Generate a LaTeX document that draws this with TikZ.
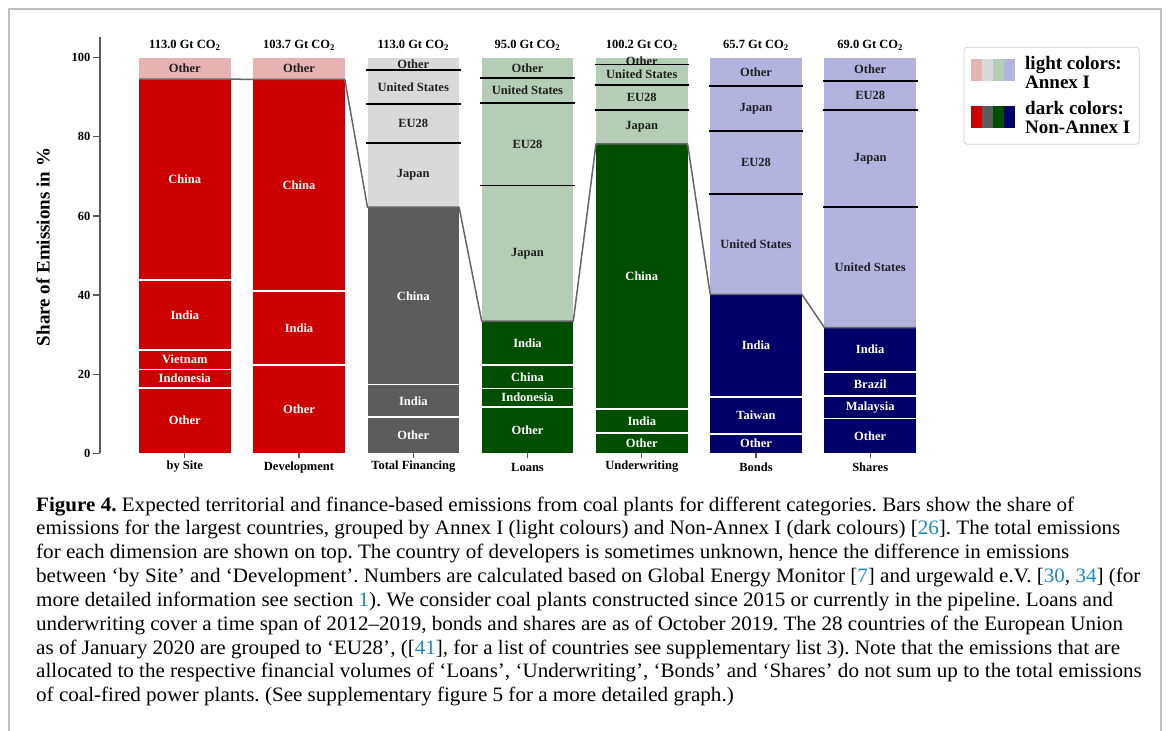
\documentclass[tikz,border=0pt]{standalone}
\usepackage{fontspec}
\setmainfont{Liberation Serif}
\newfontfamily\capfont[FakeStretch=1.028]{Liberation Serif}
\definecolor{redD}{RGB}{204,0,0}
\definecolor{redL}{RGB}{230,178,178}
\definecolor{grayD}{RGB}{92,92,92}
\definecolor{grayL}{RGB}{217,217,217}
\definecolor{greenD}{RGB}{0,78,0}
\definecolor{greenL}{RGB}{181,205,181}
\definecolor{blueD}{RGB}{0,0,104}
\definecolor{blueL}{RGB}{179,179,224}
\definecolor{citeblue}{RGB}{30,136,200}
\definecolor{framegray}{RGB}{190,190,190}
\tikzset{
  lab/.style={font=\fontsize{12.5}{13}\selectfont\bfseries, inner sep=0pt},
  labD/.style={lab, text=white},
  labL/.style={lab, text=black!88},
  sepL/.style={line width=1.8pt, black},
  sepD/.style={line width=1.8pt, white},
  conn/.style={line width=1.5pt, draw=black!60},
  axisline/.style={line width=1.3pt, draw=black!65},
  legtext/.style={font=\fontsize{19}{18.7}\selectfont\bfseries, inner sep=0pt, align=left, anchor=west},
  captext/.style={font=\capfont\fontsize{20.5}{23.8}\selectfont\frenchspacing, inner sep=0pt, anchor=base west},
  framel/.style={line width=1.5pt, draw=framegray},
}
% segment: name, x-left, lo, hi, fill colour, label style, text
\newcommand{\seg}[7]{%
  \fill[#5] (#2,#3) rectangle ({#2+91.6},#4);
  \node[#6] (#1) at ({#2+45.8},{(#3+#4)/2}) {#7};}
\newcommand{\sepl}[2]{\draw[sepL] ({#1-1.5},#2) -- ({#1+93.1},#2);}
\newcommand{\sepd}[2]{\draw[sepD] (#1,#2) -- ({#1+91.6},#2);}
\newcommand{\cit}[1]{\textcolor{citeblue}{#1}}
\begin{document}
\begin{tikzpicture}[x=1pt, y=-1pt]
\useasboundingbox (0,0) rectangle (1168,731);
\fill[white] (0,0) rectangle (1168,731);
\draw[framel] (9,731) -- (9,9) -- (1161,9) -- (1161,731);

% axis
\draw[axisline] (100,37) -- (100,453.3);
\foreach \v in {0,20,...,100} {
  \draw[axisline] (93,{453.3-\v*3.956}) -- (100,{453.3-\v*3.956});
  \node[lab, anchor=east] (tick\v) at (90.5,{453.3-\v*3.956}) {\v};
}
\node[font=\fontsize{19}{20}\selectfont\bfseries, rotate=90, inner sep=0pt] (ytitle) at (43,247) {Share of Emissions in \%};

\begin{scope}[shift={(0pt,-453.3pt)}, y=3.956pt]
% ---- bar 1: by Site
\seg{b1o}{139}{0}{16.6}{redD}{labD}{Other}
\seg{b1id}{139}{16.6}{21.2}{redD}{labD}{Indonesia}
\seg{b1v}{139}{21.2}{26.1}{redD}{labD}{Vietnam}
\seg{b1in}{139}{26.1}{43.8}{redD}{labD}{India}
\seg{b1c}{139}{43.8}{94.6}{redD}{labD}{China}
\seg{b1ot}{139}{94.6}{100}{redL}{labL}{Other}
\sepd{139}{16.6}\sepd{139}{21.2}\sepd{139}{26.1}\sepd{139}{43.8}
% ---- bar 2: Development
\seg{b2o}{253.2}{0}{22.3}{redD}{labD}{Other}
\seg{b2in}{253.2}{22.3}{41.1}{redD}{labD}{India}
\seg{b2c}{253.2}{41.1}{94.5}{redD}{labD}{China}
\seg{b2ot}{253.2}{94.5}{100}{redL}{labL}{Other}
\sepd{253.2}{22.3}\sepd{253.2}{41.1}
% ---- bar 3: Total Financing
\seg{b3o}{367.5}{0}{9.1}{grayD}{labD}{Other}
\seg{b3in}{367.5}{9.1}{17.4}{grayD}{labD}{India}
\seg{b3c}{367.5}{17.4}{62.2}{grayD}{labD}{China}
\seg{b3j}{367.5}{62.2}{78.4}{grayL}{labL}{Japan}
\seg{b3eu}{367.5}{78.4}{88.3}{grayL}{labL}{EU28}
\seg{b3us}{367.5}{88.3}{96.9}{grayL}{labL}{United States}
\seg{b3ot}{367.5}{96.9}{100}{grayL}{labL}{Other}
\sepd{367.5}{9.1}\sepd{367.5}{17.4}
\sepl{367.5}{78.4}\sepl{367.5}{88.3}\sepl{367.5}{96.9}
% ---- bar 4: Loans
\seg{b4o}{481.7}{0}{11.8}{greenD}{labD}{Other}
\seg{b4id}{481.7}{11.8}{16.4}{greenD}{labD}{Indonesia}
\seg{b4c}{481.7}{16.4}{22.3}{greenD}{labD}{China}
\seg{b4in}{481.7}{22.3}{33.4}{greenD}{labD}{India}
\seg{b4j}{481.7}{33.4}{67.7}{greenL}{labL}{Japan}
\seg{b4eu}{481.7}{67.7}{88.6}{greenL}{labL}{EU28}
\seg{b4us}{481.7}{88.6}{94.9}{greenL}{labL}{United States}
\seg{b4ot}{481.7}{94.9}{100}{greenL}{labL}{Other}
\sepd{481.7}{11.8}\sepd{481.7}{16.4}\sepd{481.7}{22.3}
\sepl{481.7}{67.7}\sepl{481.7}{88.6}\sepl{481.7}{94.9}
% ---- bar 5: Underwriting
\seg{b5o}{596}{0}{5.2}{greenD}{labD}{Other}
\seg{b5in}{596}{5.2}{11.1}{greenD}{labD}{India}
\seg{b5c}{596}{11.1}{78.2}{greenD}{labD}{China}
\seg{b5j}{596}{78.2}{86.8}{greenL}{labL}{Japan}
\seg{b5eu}{596}{86.8}{93.1}{greenL}{labL}{EU28}
\seg{b5us}{596}{93.1}{98.3}{greenL}{labL}{United States}
\seg{b5ot}{596}{98.3}{100}{greenL}{labL}{Other}
\sepd{596}{5.2}\sepd{596}{11.1}
\sepl{596}{86.8}\sepl{596}{93.1}\sepl{596}{98.3}
% ---- bar 6: Bonds
\seg{b6o}{710.2}{0}{4.9}{blueD}{labD}{Other}
\seg{b6t}{710.2}{4.9}{14.3}{blueD}{labD}{Taiwan}
\seg{b6in}{710.2}{14.3}{40.2}{blueD}{labD}{India}
\seg{b6us}{710.2}{40.2}{65.5}{blueL}{labL}{United States}
\seg{b6eu}{710.2}{65.5}{81.5}{blueL}{labL}{EU28}
\seg{b6j}{710.2}{81.5}{92.8}{blueL}{labL}{Japan}
\seg{b6ot}{710.2}{92.8}{100}{blueL}{labL}{Other}
\sepd{710.2}{4.9}\sepd{710.2}{14.3}
\sepl{710.2}{65.5}\sepl{710.2}{81.5}\sepl{710.2}{92.8}
% ---- bar 7: Shares
\seg{b7o}{824.4}{0}{8.8}{blueD}{labD}{Other}
\seg{b7m}{824.4}{8.8}{14.5}{blueD}{labD}{Malaysia}
\seg{b7b}{824.4}{14.5}{20.6}{blueD}{labD}{Brazil}
\seg{b7in}{824.4}{20.6}{31.8}{blueD}{labD}{India}
\seg{b7us}{824.4}{31.8}{62.2}{blueL}{labL}{United States}
\seg{b7j}{824.4}{62.2}{86.8}{blueL}{labL}{Japan}
\seg{b7eu}{824.4}{86.8}{94.2}{blueL}{labL}{EU28}
\seg{b7ot}{824.4}{94.2}{100}{blueL}{labL}{Other}
\sepd{824.4}{8.8}\sepd{824.4}{14.5}\sepd{824.4}{20.6}
\sepl{824.4}{62.2}\sepl{824.4}{86.8}\sepl{824.4}{94.2}
% Annex boundary connector
\coordinate (k1l) at (139,94.6);   \coordinate (k1r) at (230.6,94.6);
\coordinate (k2l) at (253.2,94.5); \coordinate (k2r) at (344.8,94.5);
\coordinate (k3l) at (367.5,62.2); \coordinate (k3r) at (459.1,62.2);
\coordinate (k4l) at (481.7,33.4); \coordinate (k4r) at (573.3,33.4);
\coordinate (k5l) at (596,78.2);   \coordinate (k5r) at (687.6,78.2);
\coordinate (k6l) at (710.2,40.2); \coordinate (k6r) at (801.8,40.2);
\coordinate (k7l) at (824.4,31.8); \coordinate (k7r) at (916,31.8);
\draw[conn, line join=round] (k1l) -- (k1r) -- (k2l) -- (k2r) -- (k3l) -- (k3r) -- (k4l) -- (k4r)
   -- (k5l) -- (k5r) -- (k6l) -- (k6r) -- (k7l) -- (k7r);
\end{scope}

% top totals and category labels
\foreach \cx/\tot/\cat [count=\i] in {184.8/113.0/by Site, 299/103.7/Development, 413.3/113.0/Total Financing, 527.5/95.0/Loans, 641.8/100.2/Underwriting, 756/65.7/Bonds, 870.2/69.0/Shares} {
  \node[lab] (top\i) at (\cx,45) {\tot\ Gt CO\textsubscript{2}};
  \draw[axisline] (\cx,453.3) -- (\cx,457.8);
  \node[lab] (cat\i) at (\cx,467) {\cat};
}

% legend
\draw[draw=black!18, line width=0.8pt, rounded corners=3pt] (964,47.3) rectangle (1139.3,144.3);
\fill[redL]   (971,59.3) rectangle (982,80.7);
\fill[grayL]  (982,59.3) rectangle (993,80.7);
\fill[greenL] (993,59.3) rectangle (1004,80.7);
\fill[blueL]  (1004,59.3) rectangle (1015,80.7);
\fill[redD]   (971,106) rectangle (982,127.7);
\fill[grayD]  (982,106) rectangle (993,127.7);
\fill[greenD] (993,106) rectangle (1004,127.7);
\fill[blueD]  (1004,106) rectangle (1015,127.7);
\node[legtext] (leg1) at (1025,72.5) {light colors:\\Annex I};
\node[legtext] (leg2) at (1025,117.5) {dark colors:\\Non-Annex I};

% caption
\foreach \t [count=\i] in {
  {\textbf{Figure 4.} Expected territorial and finance-based emissions from coal plants for different categories. Bars show the share of},
  {emissions for the largest countries, grouped by Annex I (light colours) and Non-Annex I (dark colours) [\cit{26}]. The total emissions},
  {for each dimension are shown on top. The country of developers is sometimes unknown, hence the difference in emissions},
  {between ‘by Site’ and ‘Development’. Numbers are calculated based on Global Energy Monitor [\cit{7}] and urgewald e.V. [\cit{30}, \cit{34}] (for},
  {more detailed information see section \cit{1}). We consider coal plants constructed since 2015 or currently in the pipeline. Loans and},
  {underwriting cover a time span of 2012–2019, bonds and shares are as of October 2019. The 28 countries of the European Union},
  {as of January 2020 are grouped to ‘EU28’, ([\cit{41}], for a list of countries see supplementary list 3). Note that the emissions that are},
  {allocated to the respective financial volumes of ‘Loans’, ‘Underwriting’, ‘Bonds’ and ‘Shares’ do not sum up to the total emissions},
  {of coal-fired power plants. (See supplementary figure 5 for a more detailed graph.)}
} {
  \node[captext] (cap\i) at (36,{511+(\i-1)*23.85}) {\t};
}
\end{tikzpicture}
\end{document}
